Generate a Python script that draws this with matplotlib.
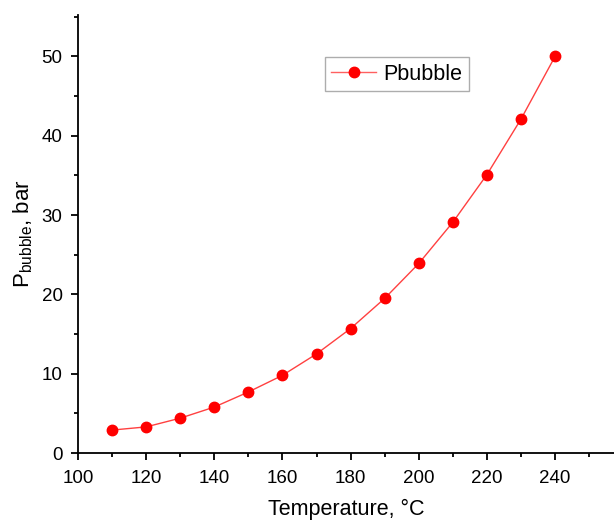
import matplotlib
matplotlib.use("Agg")
import matplotlib.pyplot as plt
from matplotlib.ticker import MultipleLocator

plt.rcParams['font.family'] = ['Liberation Sans', 'DejaVu Sans']
plt.rcParams['mathtext.fontset'] = 'custom'
plt.rcParams['mathtext.rm'] = 'Liberation Sans'
plt.rcParams['mathtext.it'] = 'Liberation Sans:italic'

temperature = [110, 120, 130, 140, 150, 160, 170, 180, 190, 200, 210, 220, 230, 240]
p_bubble = [2.9, 3.3, 4.4, 5.8, 7.7, 9.8, 12.5, 15.7, 19.5, 23.9, 29.1, 35.1, 42.1, 50.0]

fig = plt.figure(figsize=(6.14, 5.25), dpi=100)
ax = fig.add_axes([0.127, 0.137, 0.873, 0.834])
ax.plot(temperature, p_bubble, color='#ff4040', lw=1.0, zorder=2)
ax.plot(temperature, p_bubble, 'o', color='red', ms=7.5, zorder=3, label='_nolegend_')
ax.plot([], [], '-o', color='red', ms=7.5, lw=1.0, mfc='red', label='Pbubble')

ax.set_xlim(100, 257.3)
ax.set_ylim(0, 55.2)
ax.xaxis.set_major_locator(MultipleLocator(20))
ax.xaxis.set_minor_locator(MultipleLocator(10))
ax.yaxis.set_major_locator(MultipleLocator(10))
ax.yaxis.set_minor_locator(MultipleLocator(5))
for s in ['top', 'right']:
    ax.spines[s].set_visible(False)
for s in ['left', 'bottom']:
    ax.spines[s].set_linewidth(1.3)
ax.tick_params(which='major', direction='out', length=5, width=1.3, labelsize=13.5)
ax.tick_params(axis='y', which='major', pad=6)
ax.tick_params(axis='x', which='major', pad=7)
ax.tick_params(which='minor', direction='out', length=3, width=1.3)
ax.set_xlabel('Temperature, °C', fontsize=15.5, labelpad=9)
ax.set_ylabel(r'P$_{\mathrm{bubble}}$, bar', fontsize=16, labelpad=5)

leg = ax.legend(loc='upper left', bbox_to_anchor=(0.46, 0.904), fontsize=15.5,
                frameon=True, fancybox=False, edgecolor='#999999', handlelength=2.1,
                borderpad=0.3, handletextpad=0.35, borderaxespad=0)
leg.get_frame().set_linewidth(1.0)
leg.get_lines()[0].set_color('#ff6060')
leg.get_lines()[0].set_markerfacecolor('red')
leg.get_lines()[0].set_markeredgecolor('red')

fig.savefig('out.png', dpi=100)
